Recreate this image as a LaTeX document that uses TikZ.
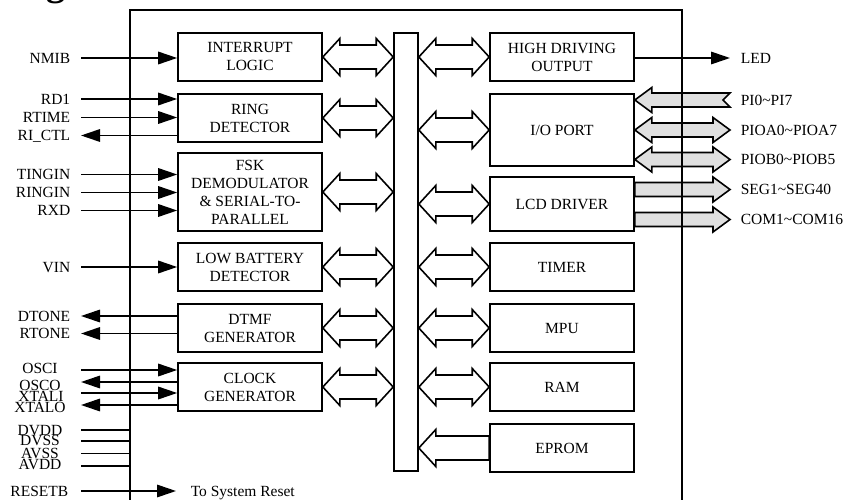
\documentclass[tikz,border=0pt]{standalone}
\usepackage{fontspec}
\setmainfont{Liberation Serif}
\usetikzlibrary{arrows.meta,calc}
\newcommand{\blkfont}{\fontsize{15.5}{18}\selectfont}
% double hollow bus arrow: #1 left tip, #2 right tip
\newcommand{\busarrow}[2]{%
  \draw[fill=white] (#1) -- ($(#1)+(17,-18.5)$) -- ($(#1)+(17,-12)$) -- ($(#2)+(-17,-12)$) -- ($(#2)+(-17,-18.5)$) -- (#2)
    -- ($(#2)+(-17,18.5)$) -- ($(#2)+(-17,12)$) -- ($(#1)+(17,12)$) -- ($(#1)+(17,18.5)$) -- cycle;}
% double grey arrow
\newcommand{\greydbl}[2]{%
  \draw[fill=gray!25] (#1) -- ($(#1)+(17,-12.5)$) -- ($(#1)+(17,-7)$) -- ($(#2)+(-17,-7)$) -- ($(#2)+(-17,-12.5)$) -- (#2)
    -- ($(#2)+(-17,12.5)$) -- ($(#2)+(-17,7)$) -- ($(#1)+(17,7)$) -- ($(#1)+(17,12.5)$) -- cycle;}
% grey arrow pointing left with notched tail
\newcommand{\greyleft}[2]{%
  \draw[fill=gray!25] (#1) -- ($(#1)+(17,-12.5)$) -- ($(#1)+(17,-7)$) -- ($(#2)+(0,-7)$) -- ($(#2)+(-7,0)$) -- ($(#2)+(0,7)$)
    -- ($(#1)+(17,7)$) -- ($(#1)+(17,12.5)$) -- cycle;}
% grey arrow pointing right, flat tail
\newcommand{\greyright}[2]{%
  \draw[fill=gray!25] ($(#1)+(0,-7)$) -- ($(#2)+(-17,-7)$) -- ($(#2)+(-17,-12.5)$) -- (#2) -- ($(#2)+(-17,12.5)$) -- ($(#2)+(-17,7)$)
    -- ($(#1)+(0,7)$) -- cycle;}
% hollow arrow pointing left, flat tail
\newcommand{\hollowleft}[2]{%
  \draw[fill=white] (#1) -- ($(#1)+(17,-18.5)$) -- ($(#1)+(17,-12)$) -- ($(#2)+(0,-12)$) -- ($(#2)+(0,12)$)
    -- ($(#1)+(17,12)$) -- ($(#1)+(17,18.5)$) -- cycle;}

\begin{document}
\begin{tikzpicture}[x=1pt,y=-1pt,line width=1.6pt,
  blk/.style={draw,rectangle,minimum width=144pt,minimum height=48pt,align=center,inner sep=0pt,font=\blkfont},
  lbl/.style={inner sep=0pt,text height=10.3pt,text depth=0pt,font=\blkfont},
  tri/.style={-{Triangle[length=19pt,width=12.5pt]}}]
\useasboundingbox (0,0) rectangle (845,500);

% heading fragment (cut off at the top edge)
\node[inner sep=0pt,anchor=base,font=\bfseries\fontsize{38}{38}\selectfont] (gfrag) at (56,-4.5) {g};

% left blocks
\node[blk] (intr) at (250,57) {INTERRUPT\\LOGIC};
\node[blk] (ring) at (250,118) {RING\\DETECTOR};
\node[blk,minimum height=78pt] (fsk) at (250,192) {FSK\\DEMODULATOR\\\& SERIAL-TO-\\PARALLEL};
\node[blk] (lowbat) at (250,267) {LOW BATTERY\\DETECTOR};
\node[blk] (dtmf) at (250,328) {DTMF\\GENERATOR};
\node[blk] (clk) at (250,387) {CLOCK\\GENERATOR};

% right blocks
\node[blk] (hdo) at (562,57) {HIGH DRIVING\\OUTPUT};
\node[blk,minimum height=72pt] (io) at (562,130) {I/O PORT};
\node[blk,minimum height=54pt] (lcd) at (562,204) {LCD DRIVER};
\node[blk] (timer) at (562,267) {TIMER};
\node[blk] (mpu) at (562,328) {MPU};
\node[blk] (ram) at (562,387) {RAM};
\node[blk] (eprom) at (562,448) {EPROM};

% bus
\node[draw,rectangle,minimum width=24pt,minimum height=438pt,inner sep=0pt] (bus) at (406,252) {};

% bus arrows
\busarrow{intr.east}{bus.west |- intr.east}
\busarrow{ring.east}{bus.west |- ring.east}
\busarrow{fsk.east}{bus.west |- fsk.east}
\busarrow{lowbat.east}{bus.west |- lowbat.east}
\busarrow{dtmf.east}{bus.west |- dtmf.east}
\busarrow{clk.east}{bus.west |- clk.east}
\busarrow{bus.east |- hdo.west}{hdo.west}
\busarrow{bus.east |- io.west}{io.west}
\busarrow{bus.east |- lcd.west}{lcd.west}
\busarrow{bus.east |- timer.west}{timer.west}
\busarrow{bus.east |- mpu.west}{mpu.west}
\busarrow{bus.east |- ram.west}{ram.west}
\hollowleft{bus.east |- eprom.west}{eprom.west}

% left pins
\coordinate (xL) at (81,0);
\node[lbl,anchor=east] (lNMIB) at (71,58) {NMIB};
\node[lbl,anchor=east] (lRD1) at (71,99) {RD1};
\node[lbl,anchor=east] (lRTIME) at (71,117.5) {RTIME};
\node[lbl,anchor=east] (lRICTL) at (71,135.5) {RI\_CTL};
\node[lbl,anchor=east] (lTINGIN) at (71,174.5) {TINGIN};
\node[lbl,anchor=east] (lRINGIN) at (71,192.5) {RINGIN};
\node[lbl,anchor=east] (lRXD) at (71,210.5) {RXD};
\node[lbl,anchor=east] (lVIN) at (71,267) {VIN};
\node[lbl,anchor=east] (lDTONE) at (71,316) {DTONE};
\node[lbl,anchor=east] (lRTONE) at (71,333.5) {RTONE};

\draw[tri] (xL |- lNMIB) -- (intr.west |- lNMIB);
\draw[tri] (xL |- lRD1) -- (ring.west |- lRD1);
\draw[tri] (xL |- lRTIME) -- (ring.west |- lRTIME);
\draw[tri] (ring.west |- lRICTL) -- (xL |- lRICTL);
\draw[tri] (xL |- lTINGIN) -- (fsk.west |- lTINGIN);
\draw[tri] (xL |- lRINGIN) -- (fsk.west |- lRINGIN);
\draw[tri] (xL |- lRXD) -- (fsk.west |- lRXD);
\draw[tri] (xL |- lVIN) -- (lowbat.west |- lVIN);
\draw[tri] (dtmf.west |- lDTONE) -- (xL |- lDTONE);
\draw[tri] (dtmf.west |- lRTONE) -- (xL |- lRTONE);

% clock pins
\node[lbl] (lOSCI) at (40,368.5) {OSCI};
\node[lbl] (lOSCO) at (40,385) {OSCO};
\node[lbl] (lXTALI) at (41,396.5) {XTALI};
\node[lbl] (lXTALO) at (40,407) {XTALO};
\coordinate (pOSCI) at (81,370);
\coordinate (pOSCO) at (81,382);
\coordinate (pXTALI) at (81,393);
\coordinate (pXTALO) at (81,405);
\draw[tri] (pOSCI) -- (clk.west |- pOSCI);
\draw[tri] (clk.west |- pOSCO) -- (pOSCO);
\draw[tri] (pXTALI) -- (clk.west |- pXTALI);
\draw[tri] (clk.west |- pXTALO) -- (pXTALO);

% chip outline
\coordinate (cTL) at (130,10);
\coordinate (cTR) at (682,10);

% power pins
\node[lbl] (lDVDD) at (40,430.5) {DVDD};
\node[lbl] (lDVSS) at (40,440.5) {DVSS};
\node[lbl] (lAVSS) at (40,453.3) {AVSS};
\node[lbl] (lAVDD) at (40,464.7) {AVDD};
\coordinate (pDVDD) at (81,430);
\coordinate (pDVSS) at (81,441);
\coordinate (pAVSS) at (81,453.5);
\coordinate (pAVDD) at (81,466);
\draw (pDVDD) -- (cTL |- pDVDD);
\draw (pDVSS) -- (cTL |- pDVSS);
\draw (pAVSS) -- (cTL |- pAVSS);
\draw (pAVDD) -- (cTL |- pAVDD);

% reset
\node[lbl,anchor=east] (lRESET) at (69,491) {RESETB};
\node[lbl,anchor=west] (tosys) at (190,491) {To System Reset};
\draw[tri] (xL |- lRESET) -- ([xshift=-14pt]tosys.west);

% right side
\coordinate (xR) at (730,0);
\node[lbl,anchor=west] (lLED) at (740,58) {LED};
\draw[tri] (hdo.east |- lLED) -- ([xshift=-10pt]lLED.west);
\node[lbl,anchor=west] (lPI) at (740,100) {PI0\textasciitilde PI7};
\node[lbl,anchor=west] (lPIOA) at (740,130) {PIOA0\textasciitilde PIOA7};
\node[lbl,anchor=west] (lPIOB) at (740,159.5) {PIOB0\textasciitilde PIOB5};
\node[lbl,anchor=west] (lSEG) at (740,189.5) {SEG1\textasciitilde SEG40};
\node[lbl,anchor=west] (lCOM) at (740,219.5) {COM1\textasciitilde COM16};
\greyleft{io.east |- lPI}{xR |- lPI}
\greydbl{io.east |- lPIOA}{xR |- lPIOA}
\greydbl{io.east |- lPIOB}{xR |- lPIOB}
\greyright{lcd.east |- lSEG}{xR |- lSEG}
\greyright{lcd.east |- lCOM}{xR |- lCOM}

% chip outline on top
\draw ($(cTL)+(0,520)$) -- (cTL) -- (cTR) -- ($(cTR)+(0,520)$);
\end{tikzpicture}
\end{document}
